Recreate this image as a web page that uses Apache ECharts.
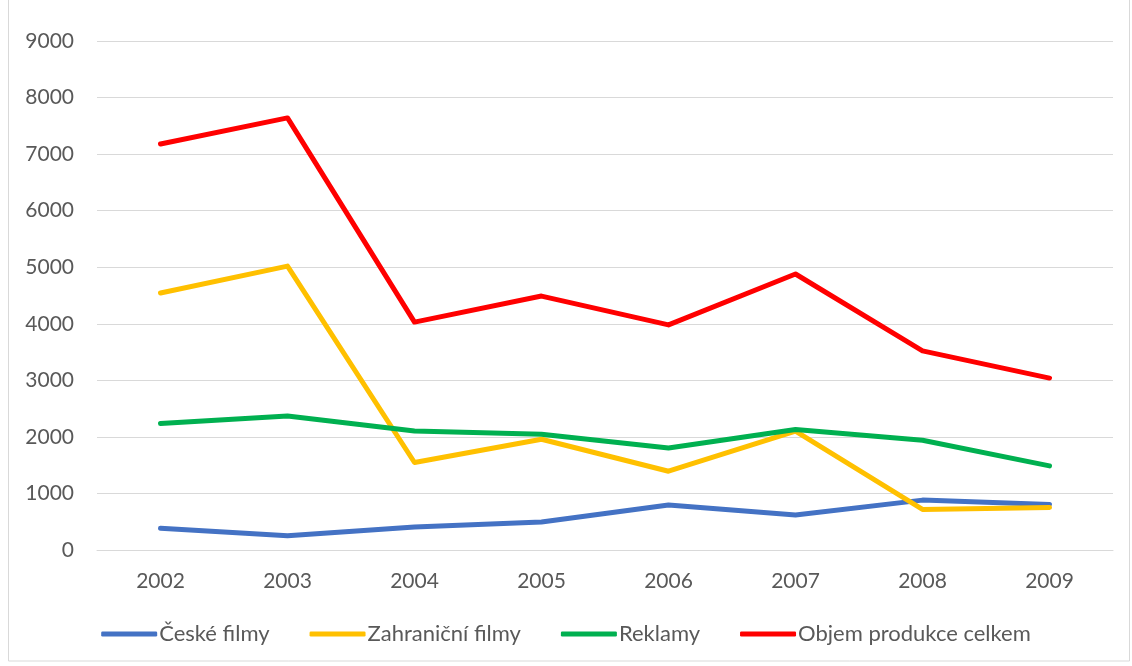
<!DOCTYPE html>
<html>
<head>
<meta charset="utf-8">
<script src="https://cdn.jsdelivr.net/npm/echarts@6/dist/echarts.min.js"></script>
<style>
  html, body { margin: 0; padding: 0; background: #fff; }
  #chart { width: 1132px; height: 666px; }
</style>
</head>
<body>
<div id="chart"></div>
<script>
// roky na ose x
const years = ["2002", "2003", "2004", "2005", "2006", "2007", "2008", "2009"];

// hodnoty jednotlivých řad
const ceskeFilmy = [385, 252, 405, 494, 794, 617, 882, 806];
const zahranicniFilmy = [4545, 5020, 1547, 1958, 1393, 2100, 718, 753];
const reklamy = [2235, 2370, 2105, 2045, 1805, 2129, 1940, 1487];
const objemCelkem = [7180, 7640, 4030, 4490, 3980, 4880, 3520, 3040];

const seriesNames = ["České filmy", "Zahraniční filmy", "Reklamy", "Objem produkce celkem"];
const seriesData = [ceskeFilmy, zahranicniFilmy, reklamy, objemCelkem];
const colors = ["#4472c4", "#ffc000", "#00b050", "#ff0000"];

const chart = echarts.init(document.getElementById("chart"));

const font = "Lato, 'Liberation Sans', sans-serif";

chart.setOption({
    animation: false,
    color: colors,
    graphic: [{
        type: "rect",
        shape: { x: 8.5, y: -2, width: 1121, height: 663 },
        style: { fill: "none", stroke: "#d9d9d9", lineWidth: 1 },
        silent: true
    }],
    grid: { left: 97, right: 19, top: 41, bottom: 116 },
    legend: {
        bottom: 16,
        left: "center",
        itemWidth: 56,
        itemHeight: 5,
        itemGap: 40,
        icon: "roundRect",
        textStyle: { fontFamily: font, fontSize: 22, color: "#595959", padding: [0, 0, 0, -3] },
        data: seriesNames
    },
    xAxis: {
        type: "category",
        data: years,
        boundaryGap: true,
        axisLine: { show: true, lineStyle: { color: "#d9d9d9", width: 1 } },
        axisTick: { show: false },
        axisLabel: { fontFamily: font, fontSize: 21, color: "#595959", margin: 21 }
    },
    yAxis: {
        type: "value",
        min: 0,
        max: 9000,
        interval: 1000,
        axisLine: { show: false },
        axisTick: { show: false },
        splitLine: { lineStyle: { color: "#d9d9d9", width: 1 } },
        axisLabel: { fontFamily: font, fontSize: 21, color: "#595959", margin: 23, formatter: v => String(v) }
    },
    series: seriesData.map((d, i) => ({
        name: seriesNames[i],
        type: "line",
        data: d,
        symbol: "none",
        lineStyle: { width: 5, cap: "round", join: "round" }
    }))
});
</script>
</body>
</html>
